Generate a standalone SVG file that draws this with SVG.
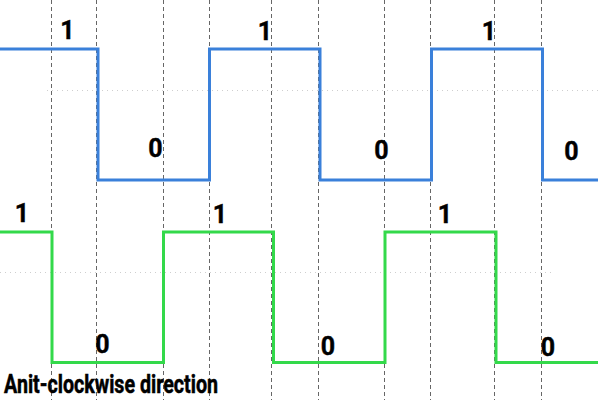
<svg xmlns="http://www.w3.org/2000/svg" width="598" height="400" viewBox="0 0 598 400">
<style>
.grid{stroke:#666;stroke-width:1;stroke-dasharray:4 3;fill:none}
.dot{stroke:#cfcfcf;stroke-width:1;stroke-dasharray:1 4;fill:none}
.blue{stroke:#3a80da;stroke-width:3;fill:none}
.green{stroke:#33d94a;stroke-width:3;fill:none}
.lbl{font-family:Roboto,"Liberation Sans",sans-serif;font-weight:bold;font-size:25px;fill:#000;stroke:#000;stroke-width:0.4;text-anchor:middle}
.title{font-family:Roboto,"Liberation Sans",sans-serif;font-weight:bold;font-size:25px;fill:#000;stroke:#000;stroke-width:0.5}
</style>
<rect width="598" height="400" fill="#fff"/>
<g id="gridlines">
<line class="dot" x1="47" y1="90.5" x2="598" y2="90.5"/>
<line class="dot" x1="0" y1="272.5" x2="552" y2="272.5"/>
<line class="grid" x1="51.5" y1="0" x2="51.5" y2="400"/>
<line class="grid" x1="96.5" y1="0" x2="96.5" y2="400"/>
<line class="grid" x1="163.5" y1="0" x2="163.5" y2="400"/>
<line class="grid" x1="209.5" y1="0" x2="209.5" y2="400"/>
<line class="grid" x1="271.5" y1="0" x2="271.5" y2="400"/>
<line class="grid" x1="318.5" y1="0" x2="318.5" y2="400"/>
<line class="grid" x1="384.5" y1="0" x2="384.5" y2="400"/>
<line class="grid" x1="430.5" y1="0" x2="430.5" y2="400"/>
<line class="grid" x1="494.5" y1="0" x2="494.5" y2="400"/>
<line class="grid" x1="541.5" y1="0" x2="541.5" y2="400"/>
</g>
<g id="blue-wave">
<polyline class="blue" points="0,49 98,49 98,180 209.5,180 209.5,49 320,49 320,180 431.5,180 431.5,49 542.5,49 542.5,180 598,180"/>
</g>
<g id="green-wave">
<polyline class="green" points="0,232 52,232 52,362.5 163.5,362.5 163.5,232 273.5,232 273.5,362.5 385,362.5 385,232 496,232 496,362.5 598,362.5"/>
</g>
<g id="blue-labels">
<text class="lbl" x="67.5" y="38.5">1</text>
<text class="lbl" x="155.5" y="157">0</text>
<text class="lbl" x="265" y="39.5">1</text>
<text class="lbl" x="381.5" y="159">0</text>
<text class="lbl" x="489" y="40">1</text>
<text class="lbl" x="571.5" y="160">0</text>
</g>
<g id="green-labels">
<text class="lbl" x="22" y="222">1</text>
<text class="lbl" x="102.5" y="353">0</text>
<text class="lbl" x="220" y="223">1</text>
<text class="lbl" x="328" y="355">0</text>
<text class="lbl" x="445" y="223">1</text>
<text class="lbl" x="548" y="356">0</text>
</g>
<g id="title">
<text class="title" x="4" y="393" textLength="214" lengthAdjust="spacingAndGlyphs">Anit-clockwise direction</text>
</g>
</svg>
